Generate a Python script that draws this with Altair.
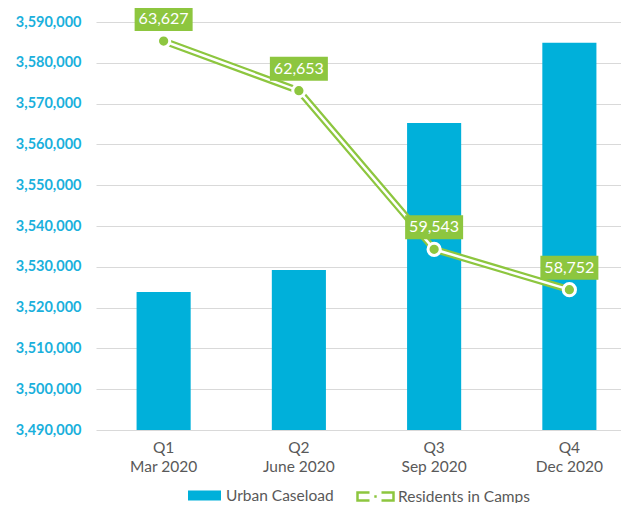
import altair as alt
import pandas as pd

quarters = ["Q1|Mar 2020", "Q2|June 2020", "Q3|Sep 2020", "Q4|Dec 2020"]
urban_caseload = [3523800, 3529200, 3565250, 3584900]
residents_in_camps = [63627, 62653, 59543, 58752]
y_ticks = list(range(3490000, 3590001, 10000))
bar_series = ["Urban Caseload"] * 4
line_series = ["Residents in Camps"] * 4

BLUE = "#00B0DA"
GREEN = "#8DC63F"
AXIS_BLUE = "#1AB0DC"
GRAY = "#595959"
GRID = "#D9D9D9"
FONT = "Lato"

df = pd.DataFrame({
    "quarter": quarters,
    "urban": urban_caseload,
    "camps": residents_in_camps,
    "bar_series": bar_series,
    "line_series": line_series,
})
df["label"] = [f"{v:,}" for v in residents_in_camps]

x_enc = alt.X(
    "quarter:N", sort=None, title=None,
    scale=alt.Scale(range=[0, 541], paddingInner=0.6, paddingOuter=0.3),
    axis=alt.Axis(labelAngle=0, labelExpr="split(datum.label, '|')", ticks=False,
                  domain=False, grid=False, labelPadding=10, labelFont=FONT,
                  labelFontSize=15.5, labelColor=GRAY, labelLineHeight=19,
                  labelBaseline="top"),
)

BAR_SYM = "M-1,-0.3L1,-0.3L1,0.3L-1,0.3Z"
LINE_SYM = ("M-0.3,-0.2L-0.9,-0.2L-0.9,0.2L-0.3,0.2"
            "M-0.06,0L0.06,0"
            "M0.3,-0.2L0.9,-0.2L0.9,0.2L0.3,0.2")
BOX = "M-1,-0.414L1,-0.414L1,0.414L-1,0.414Z"

bars = alt.Chart(df).mark_bar().encode(
    x=x_enc,
    y=alt.Y("urban:Q", title=None,
            scale=alt.Scale(domain=[3490000, 3590000], nice=False, zero=False),
            axis=alt.Axis(values=y_ticks, format=",.0f", ticks=False, domain=False,
                          gridColor=GRID, gridWidth=1, labelFont=FONT,
                          labelFontSize=14.5, labelFontWeight="bold",
                          labelColor=AXIS_BLUE, labelPadding=15)),
    y2=alt.datum(3490000),
    color=alt.Color("bar_series:N",
                    scale=alt.Scale(domain=["Urban Caseload"], range=[BLUE]),
                    legend=alt.Legend(title=None, orient="none", legendX=91, legendY=456,
                                      symbolType=BAR_SYM, symbolSize=1089,
                                      labelFont=FONT, labelFontSize=15.5,
                                      labelColor=GRAY, labelOffset=4, padding=0)),
)

y_line = alt.Y("camps:Q", scale=alt.Scale(domain=[56000, 64000], nice=False, zero=False),
               axis=None)
base = alt.Chart(df).encode(x=x_enc, y=y_line)

green_line = base.mark_line(strokeWidth=7).encode(
    color=alt.Color("line_series:N",
                    scale=alt.Scale(domain=["Residents in Camps"], range=[GREEN]),
                    legend=alt.Legend(title=None, orient="none", legendX=258, legendY=453,
                                      symbolType=LINE_SYM, symbolSize=1600,
                                      symbolStrokeWidth=2.5, symbolFillColor="transparent",
                                      labelFont=FONT, labelFontSize=15.5,
                                      labelColor=GRAY, labelOffset=1, padding=0)),
)
white_line = base.mark_line(color="white", strokeWidth=2.5)
points = base.mark_point(filled=True, size=150, fill=GREEN, stroke="white",
                         strokeWidth=3, opacity=1)
boxes = base.mark_point(shape=BOX, size=3364, filled=True, color=GREEN, opacity=1,
                        yOffset=-22, strokeWidth=0)
texts = base.mark_text(dy=-22, color="white", font=FONT, fontSize=16,
                       baseline="middle").encode(text="label:N")

chart = alt.layer(
    bars,
    alt.layer(green_line, white_line, points, boxes, texts),
).resolve_scale(y="independent", color="independent").resolve_legend(
    color="independent"
).properties(
    width=525, height=408,
    padding={"left": 88, "top": 14, "right": 0, "bottom": 73},
    autosize="none",
).configure_view(stroke=None)

chart.save("out.html", embed_options={"renderer": "svg", "actions": False})
